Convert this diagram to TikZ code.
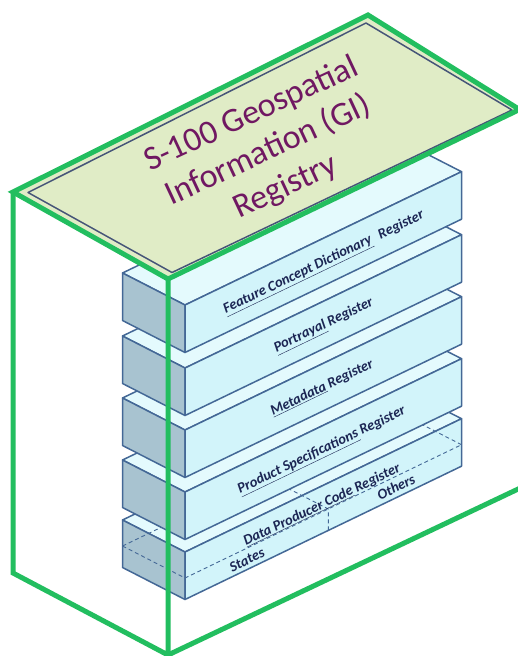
\documentclass[tikz,border=0pt]{standalone}
\usepackage{fontspec}
\setmainfont{Carlito}
\definecolor{gbox}{RGB}{34,190,95}
\definecolor{planefill}{RGB}{224,236,198}
\definecolor{planeline}{RGB}{70,85,120}
\definecolor{boxline}{RGB}{68,104,150}
\definecolor{boxleft}{RGB}{168,195,208}
\definecolor{boxright}{RGB}{210,244,250}
\definecolor{boxtop}{RGB}{228,250,253}
\definecolor{titlepurple}{RGB}{112,24,98}
\definecolor{labelnavy}{RGB}{28,38,84}
\newcommand\regbox[1]{%
  \filldraw[topface] (122.5,#1-32) -- (185,#1) -- (461.5,#1-133.3) -- (399,#1-165.3) -- cycle;
  \filldraw[leftface] (122.5,#1-32) -- (185,#1) -- (185,#1+47.5) -- (122.5,#1+15.5) -- cycle;
  \filldraw[rightface] (185,#1) -- (461.5,#1-133.3) -- (461.5,#1-85.8) -- (185,#1+47.5) -- cycle;
}
\begin{document}
\begin{tikzpicture}[x=1pt,y=-1pt,
  facebase/.style={draw=boxline, line width=1.5pt, line join=round},
  topface/.style={facebase, fill=boxtop},
  leftface/.style={facebase, fill=boxleft},
  rightface/.style={facebase, fill=boxright},
  hiddenline/.style={draw=boxline, line width=0.9pt, dash pattern=on 4pt off 3pt},
  gline/.style={draw=gbox, line width=5pt},
  regtext/.style={rotate=25.7, text=labelnavy, inner sep=0pt,
    font=\fontsize{14.5}{16}\selectfont\bfseries\itshape},
  titletext/.style={rotate=25, align=center, text=titlepurple, inner sep=0pt,
    font=\fontsize{34}{40}\selectfont}]
\useasboundingbox (0,0) rectangle (518,656);
\clip (0,0) rectangle (518,656);
\fill[white] (0,0) rectangle (518,656);
% register boxes, bottom first
\regbox{552}
\draw[hiddenline] (122.5,546) -- (185,578) -- (461.5,444.7);
\draw[hiddenline] (122.5,546) -- ++(276.5,-133.3);
\draw[hiddenline] (461.5,444.7) -- ++(-62.5,-32);
\draw[hiddenline] (328.3,530.4) -- (328.3,509) -- ++(-62.5,-32);
\regbox{492}
\regbox{430}
\regbox{368}
\regbox{305}
% labels
\node[regtext] (fcd) at (324,263) {\underline{Feature Concept Dictionary}\hspace{0.6em}Register};
\node[regtext] (por) at (324,326) {\underline{Portrayal} Register};
\node[regtext] (met) at (322,388) {\underline{Metadata} Register};
\node[regtext] (psr) at (322,451) {\underline{Product Specifications} Register};
\node[regtext] (dpc) at (322,505) {\underline{Data Producer Code} Register};
\node[regtext] (sta) at (247,560) {States};
\node[regtext] (oth) at (396,487) {Others};
% top plane
\fill[planefill] (13,192) -- (368,15) -- (519.5,109.5) -- (168,279) -- cycle;
\draw[planeline, line width=1.5pt, line join=round] (28,192.5) -- (366,23) -- (512,110) -- (172,272.5) -- cycle;
\draw[gline] (13,192) -- (368,15) -- (519.5,109.5) -- (168,279) -- cycle;
\draw[gline] (13,192) -- (13,573) -- (168,655) -- (168,279);
\draw[gline] (168,655) -- (530,483.4);
\node[titletext] (title) at (268.5,151) {S-100 Geospatial\\Information (GI)\\Registry};
\end{tikzpicture}
\end{document}
